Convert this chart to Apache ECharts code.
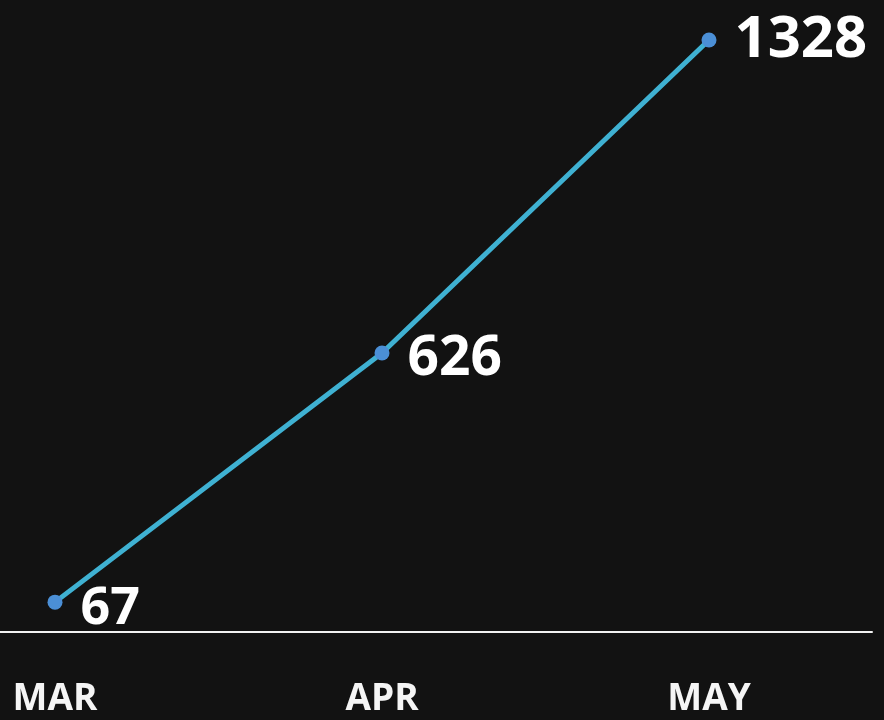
<!DOCTYPE html>
<html>
<head>
	<meta charset="utf-8">
	<title>MAR-MAY</title>
	<script type="text/javascript" src="https://cdn.jsdelivr.net/npm/echarts@6/dist/echarts.min.js"></script>
	<style type="text/css">
		html,body{margin:0;padding:0;background:#121212;}
		#chart-1{width:884px;height:720px;}
	</style>
</head>
<body>
	<div id="chart-1"></div>
<script type="text/javascript">
	// data
	var months = ['MAR', 'APR', 'MAY'];
	var values = [67, 626, 1328];
	// label sizes / offsets per point
	var labelSizes = [52, 55, 58];
	var labelOffsets = [[0, 7], [0, 6], [0, 0]];

	var font = '"Open Sans", sans-serif';

	var myChart = echarts.init(document.getElementById('chart-1'));
	var option = {
		backgroundColor: '#121212',
		animation: false,
		grid: [
			{ left: 55, right: 175, top: 40, bottom: 88 },
			// second grid only for the full-width baseline
			{ left: 0, right: 12, top: 40, bottom: 88 }
		],
		xAxis: [{
			type: 'category',
			gridIndex: 0,
			data: months,
			boundaryGap: false,
			axisLine: { show: false },
			axisTick: { show: false },
			axisLabel: {
				color: '#f5f5f5',
				fontFamily: font,
				fontWeight: 'bold',
				fontSize: 37,
				margin: 49
			}
		}, {
			type: 'value',
			gridIndex: 1,
			min: 0,
			max: 1,
			axisLine: { show: true, lineStyle: { color: '#f2f2f2', width: 2 } },
			axisTick: { show: false },
			axisLabel: { show: false },
			splitLine: { show: false }
		}],
		yAxis: [{
			type: 'value',
			gridIndex: 0,
			min: 0,
			max: 1328,
			show: false,
			splitLine: { show: false }
		}, {
			type: 'value',
			gridIndex: 1,
			show: false,
			splitLine: { show: false }
		}],
		series: [{
			type: 'line',
			xAxisIndex: 0,
			yAxisIndex: 0,
			data: values.map(function (v, i) {
				return {
					value: v,
					label: { fontSize: labelSizes[i], offset: labelOffsets[i] }
				};
			}),
			symbol: 'circle',
			symbolSize: 15,
			itemStyle: { color: '#4b8fd6' },
			lineStyle: { color: '#3fb1d2', width: 5 },
			label: {
				show: true,
				position: 'right',
				distance: 18,
				color: '#ffffff',
				fontFamily: font,
				fontWeight: 'bold'
			}
		}]
	};
	myChart.setOption(option);
</script>
</body>
</html>
